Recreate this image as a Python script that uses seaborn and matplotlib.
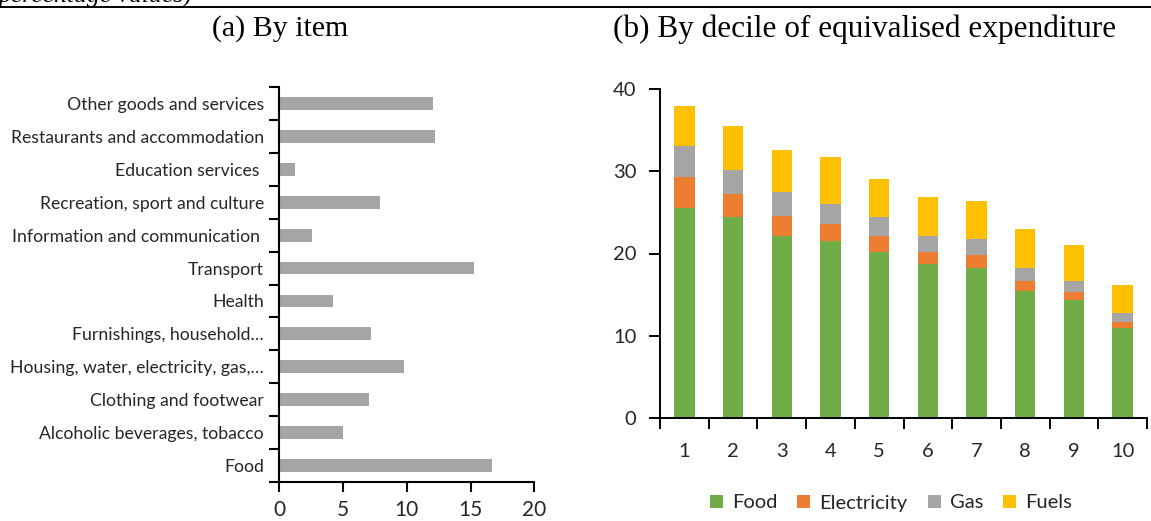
import matplotlib
matplotlib.use("Agg")
import matplotlib.pyplot as plt
from matplotlib.lines import Line2D
from matplotlib.patches import Patch
import numpy as np
import pandas as pd
import seaborn as sns

# (a) spending shares by item, listed top to bottom
items = [
    "Other goods and services",
    "Restaurants and accommodation",
    "Education services ",
    "Recreation, sport and culture",
    "Information and communication ",
    "Transport",
    "Health",
    "Furnishings, household\u2026",
    "Housing, water, electricity, gas,\u2026",
    "Clothing and footwear",
    "Alcoholic beverages, tobacco",
    "Food",
]
item_shares = [12.05, 12.25, 1.2, 7.9, 2.6, 15.3, 4.2, 7.2, 9.8, 7.0, 5.0, 16.7]
item_ticks = [0, 5, 10, 15, 20]

# (b) shares by decile of equivalised expenditure
deciles = ["1", "2", "3", "4", "5", "6", "7", "8", "9", "10"]
food = [25.5, 24.4, 22.1, 21.5, 20.2, 18.7, 18.2, 15.4, 14.4, 10.9]
electricity = [3.8, 2.8, 2.5, 2.1, 1.9, 1.5, 1.6, 1.2, 0.9, 0.8]
gas = [3.8, 3.0, 2.9, 2.4, 2.3, 1.9, 2.0, 1.6, 1.4, 1.1]
fuels = [4.8, 5.3, 5.1, 5.7, 4.7, 4.8, 4.6, 4.8, 4.3, 3.4]
decile_ticks = [0, 10, 20, 30, 40]

component_names = ["Food", "Electricity", "Gas", "Fuels"]
component_colors = ["#70AD47", "#ED7D31", "#A5A5A5", "#FFC000"]

sns.set_style("white")
plt.rcParams["font.family"] = ["Lato", "DejaVu Sans"]
TXT = "#262626"

W, H = 1151, 521
fig = plt.figure(figsize=(W / 100, H / 100), dpi=100)


def px_axes(x0, y_top, x1, y_bot):
    return fig.add_axes([x0 / W, 1 - y_bot / H, (x1 - x0) / W, (y_bot - y_top) / H])


ax_a = px_axes(279.3, 87, 534.3, 482)
ax_b = px_axes(660, 89, 1147, 418)

# ---- panel (a): horizontal bars
items_df = pd.DataFrame({"item": items, "share": item_shares})
sns.barplot(data=items_df, x="share", y="item", orient="h", color="#A5A5A5",
            saturation=1, width=0.39, errorbar=None, linewidth=0, ax=ax_a)
ax_a.set_xlim(0, 20)
ax_a.set_ylim(len(items) - 0.5, -0.5)
ax_a.set_xticks(item_ticks)
ax_a.set_xticklabels([str(t) for t in item_ticks])
ax_a.set_yticks(np.arange(len(items)))
ax_a.set_yticks(np.arange(len(items) + 1) - 0.5, minor=True)
ax_a.tick_params(axis="y", which="major", length=0, pad=11, labelsize=12.7, labelcolor=TXT)
ax_a.tick_params(axis="y", which="minor", length=7, width=1.5, color="black", left=True)
ax_a.tick_params(axis="x", which="major", length=7, width=1.5, color="black",
                 bottom=True, pad=6, labelsize=15, labelcolor=TXT)
ax_a.set_xlabel("")
ax_a.set_ylabel("")
sns.despine(ax=ax_a)
for s in ("left", "bottom"):
    ax_a.spines[s].set_color("black")
    ax_a.spines[s].set_linewidth(1.5)

# ---- panel (b): stacked bars, drawn as overlaid cumulative totals
stack = np.vstack([food, electricity, gas, fuels])
cumulative = np.cumsum(stack, axis=0)
for level in range(len(component_names) - 1, -1, -1):
    sns.barplot(x=deciles, y=cumulative[level], color=component_colors[level],
                saturation=1, width=0.42, errorbar=None, linewidth=0, ax=ax_b)
ax_b.set_xlim(-0.5, len(deciles) - 0.5)
ax_b.set_ylim(0, 40)
ax_b.set_yticks(decile_ticks)
ax_b.set_yticklabels([str(t) for t in decile_ticks])
ax_b.set_xticks(np.arange(len(deciles)))
ax_b.set_xticklabels(deciles)
ax_b.set_xticks(np.arange(len(deciles) + 1) - 0.5, minor=True)
ax_b.tick_params(axis="x", which="major", length=0, pad=18, labelsize=14.5, labelcolor=TXT)
ax_b.tick_params(axis="x", which="minor", length=8, width=1.4, color="black", bottom=True)
ax_b.tick_params(axis="y", which="major", length=8, width=1.4, color="black",
                 left=True, pad=9, labelsize=14.5, labelcolor=TXT)
ax_b.set_xlabel("")
ax_b.set_ylabel("")
sns.despine(ax=ax_b)
for s in ("left", "bottom"):
    ax_b.spines[s].set_color("black")
    ax_b.spines[s].set_linewidth(1.4)

handles = [Patch(facecolor=c, edgecolor="none", label=n)
           for n, c in zip(component_names, component_colors)]
fig.legend(handles=handles, loc="center", bbox_to_anchor=(891 / W, 1 - 503 / H),
           ncol=4, frameon=False, fontsize=14.5, handlelength=0.65, handleheight=0.65,
           handletextpad=0.45, columnspacing=1.0, labelcolor=TXT)

# ---- panel headings, rule and running caption
serif = ["Liberation Serif", "DejaVu Serif"]
fig.text(280 / W, 1 - 29 / H, "(a) By item", ha="center", va="center",
         family=serif, fontsize=21.5, color="black")
fig.text(865 / W, 1 - 29 / H, "(b) By decile of equivalised expenditure",
         ha="center", va="center", family=serif, fontsize=22.5, color="black")
fig.add_artist(Line2D([0, 1], [1 - 7.3 / H] * 2, transform=fig.transFigure,
                      color="black", lw=1.4))

# caption line above the rule: only its lower part falls inside the figure
fig.text(192 / W, 1 - 3 / H, "percentage values)", ha="right", va="baseline",
         family=serif, fontstyle="italic", fontsize=18.5, color="black")

fig.savefig("out.png", dpi=100)
